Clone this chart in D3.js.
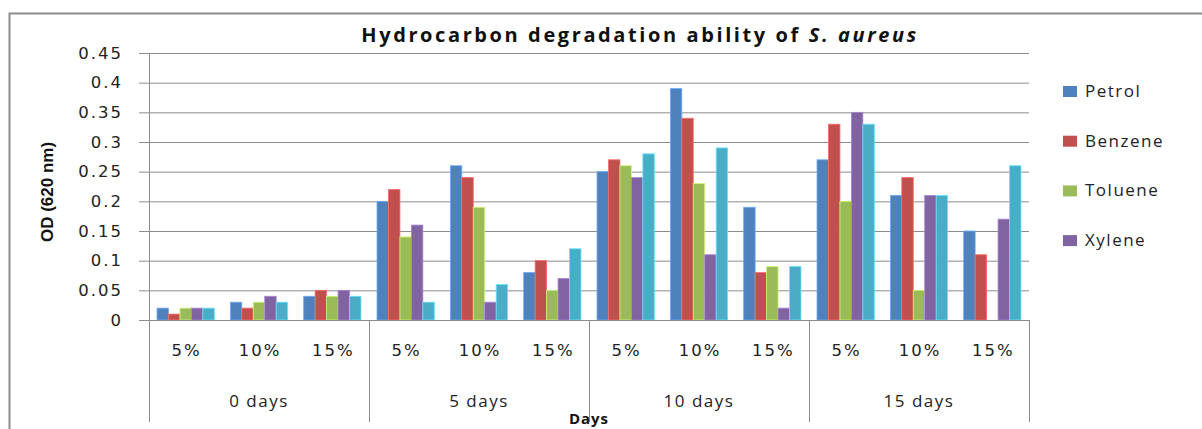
<!DOCTYPE html>
<html>
<head>
<meta charset="utf-8">
<script src="https://cdn.jsdelivr.net/npm/d3@7"></script>
<style>
  body { margin: 0; background: #fff; }
  svg { display: block; }
</style>
</head>
<body>
<div id="chart"></div>
<script>
// OD readings per series, one value per (day, concentration) group
const days = ["0 days", "5 days", "10 days", "15 days"];
const concentrations = ["5%", "10%", "15%"];
const seriesNames = ["Petrol", "Benzene", "Toluene", "Xylene", "Series5"];
const legendNames = ["Petrol", "Benzene", "Toluene", "Xylene"];
const colors = ["#4F81BD", "#C0504D", "#9BBB59", "#8064A2", "#4BACC6"];

const petrol  = [0.02, 0.03, 0.04, 0.20, 0.26, 0.08, 0.25, 0.39, 0.19, 0.27, 0.21, 0.15];
const benzene = [0.01, 0.02, 0.05, 0.22, 0.24, 0.10, 0.27, 0.34, 0.08, 0.33, 0.24, 0.11];
const toluene = [0.02, 0.03, 0.04, 0.14, 0.19, 0.05, 0.26, 0.23, 0.09, 0.20, 0.05, 0];
const xylene  = [0.02, 0.04, 0.05, 0.16, 0.03, 0.07, 0.24, 0.11, 0.02, 0.35, 0.21, 0.17];
const series5 = [0.02, 0.03, 0.04, 0.03, 0.06, 0.12, 0.28, 0.29, 0.09, 0.33, 0.21, 0.26];
const yTicks = [0, 0.05, 0.1, 0.15, 0.2, 0.25, 0.3, 0.35, 0.4, 0.45];

const allSeries = [petrol, benzene, toluene, xylene, series5];

const width = 1202, height = 429;
const plot = { left: 149, right: 1029, top: 53, bottom: 320 };
const tickFont = "DejaVu Sans, Verdana, sans-serif";
const textFont = "Open Sans, Noto Sans, sans-serif";

const svg = d3.select("#chart").append("svg")
    .attr("width", width).attr("height", height);

// outer chart border (only left and top are visible in the crop)
svg.append("path")
    .attr("d", `M9.5,${height} V13.5 H${width}`)
    .attr("fill", "none").attr("stroke", "#8c8c8c").attr("stroke-width", 2);

// groups = day x concentration
const groups = [];
days.forEach(d => concentrations.forEach(c => groups.push(d + "|" + c)));

const x0 = d3.scaleBand().domain(groups).range([plot.left, plot.right]);
const x1 = d3.scaleBand().domain(seriesNames).range([0, x0.bandwidth()]).paddingOuter(0.7);
const y = d3.scaleLinear().domain([0, 0.45]).range([plot.bottom, plot.top]);

// gridlines + y tick labels
svg.append("g")
    .attr("transform", `translate(${plot.left},0)`)
    .call(d3.axisLeft(y).tickValues(yTicks).tickSize(-(plot.right - plot.left)).tickSizeOuter(0)
        .tickFormat(d => d === 0 ? "0" : String(+d.toFixed(2))))
    .call(g => g.select(".domain").remove())
    .call(g => g.selectAll(".tick line").attr("stroke", "#8c8c8c").attr("x1", -10))
    .call(g => g.selectAll(".tick text")
        .attr("x", -26)
        .attr("font-family", tickFont)
        .attr("font-size", 16.5)
        .attr("letter-spacing", 2)
        .attr("fill", "#222"));

// y axis line
svg.append("line")
    .attr("x1", plot.left + 0.5).attr("x2", plot.left + 0.5)
    .attr("y1", plot.top).attr("y2", plot.bottom)
    .attr("stroke", "#8c8c8c");

// bars
const gBars = svg.append("g");
groups.forEach((grp, gi) => {
    gBars.selectAll(null)
        .data(seriesNames.map((s, si) => ({ s, si, v: allSeries[si][gi] })))
        .join("rect")
        .attr("x", d => x0(grp) + x1(d.s))
        .attr("y", d => y(d.v))
        .attr("width", x1.bandwidth())
        .attr("height", d => y(0) - y(d.v))
        .attr("fill", d => colors[d.si])
        .attr("stroke", d => d.v > 0 ? d3.color(colors[d.si]).brighter(0.8) : "none")
        .attr("stroke-width", 0.8);
});

// category axis: baseline, separators, labels
svg.append("line")
    .attr("x1", plot.left).attr("x2", plot.right)
    .attr("y1", plot.bottom + 0.5).attr("y2", plot.bottom + 0.5)
    .attr("stroke", "#8c8c8c");

const dayScale = d3.scaleBand().domain(days).range([plot.left, plot.right]);
const sepX = days.map(d => dayScale(d)).concat([plot.right]);
svg.append("g").selectAll("line")
    .data(sepX)
    .join("line")
    .attr("x1", d => Math.round(d) + 0.5).attr("x2", d => Math.round(d) + 0.5)
    .attr("y1", plot.bottom).attr("y2", 422)
    .attr("stroke", "#8c8c8c");

svg.append("g").selectAll("text")
    .data(groups)
    .join("text")
    .attr("x", d => x0(d) + x0.bandwidth() / 2 + 1)
    .attr("y", 356)
    .attr("text-anchor", "middle")
    .attr("font-family", tickFont)
    .attr("font-size", 16.5)
    .attr("letter-spacing", 2)
    .attr("fill", "#222")
    .text(d => d.split("|")[1]);

svg.append("g").selectAll("text")
    .data(days)
    .join("text")
    .attr("x", d => dayScale(d) + dayScale.bandwidth() / 2)
    .attr("y", 407)
    .attr("text-anchor", "middle")
    .attr("font-family", textFont)
    .attr("font-size", 17)
    .attr("letter-spacing", 1.5)
    .attr("fill", "#222")
    .text(d => d);

// axis titles
svg.append("text")
    .attr("x", 589).attr("y", 424)
    .attr("text-anchor", "middle")
    .attr("font-family", textFont)
    .attr("font-weight", "bold")
    .attr("font-size", 15)
    .attr("letter-spacing", 1)
    .attr("fill", "#111")
    .text("Days");

svg.append("text")
    .attr("transform", "translate(53,192) rotate(-90)")
    .attr("text-anchor", "middle")
    .attr("font-family", "Liberation Sans Narrow, Arial Narrow, sans-serif")
    .attr("font-weight", "bold")
    .attr("font-size", 17)
    .attr("fill", "#111")
    .text("OD (620 nm)");

// title
const title = svg.append("text")
    .attr("x", 640).attr("y", 42)
    .attr("text-anchor", "middle")
    .attr("font-family", textFont)
    .attr("font-weight", "bold")
    .attr("font-size", 20)
    .attr("letter-spacing", 2.6)
    .attr("fill", "#111");
title.append("tspan").text("Hydrocarbon degradation ability of ");
title.append("tspan").attr("font-style", "italic").text("S. aureus");

// legend
const legend = svg.append("g").attr("transform", "translate(1063,0)");
legendNames.forEach((name, i) => {
    const cy = 91 + i * 49.7;
    legend.append("rect")
        .attr("x", 0).attr("y", cy - 5)
        .attr("width", 14).attr("height", 11)
        .attr("fill", colors[i]);
    legend.append("text")
        .attr("x", 22).attr("y", cy + 6)
        .attr("font-family", textFont)
        .attr("font-size", 17)
        .attr("letter-spacing", 1.5)
        .attr("fill", "#222")
        .text(name);
});
</script>
</body>
</html>
